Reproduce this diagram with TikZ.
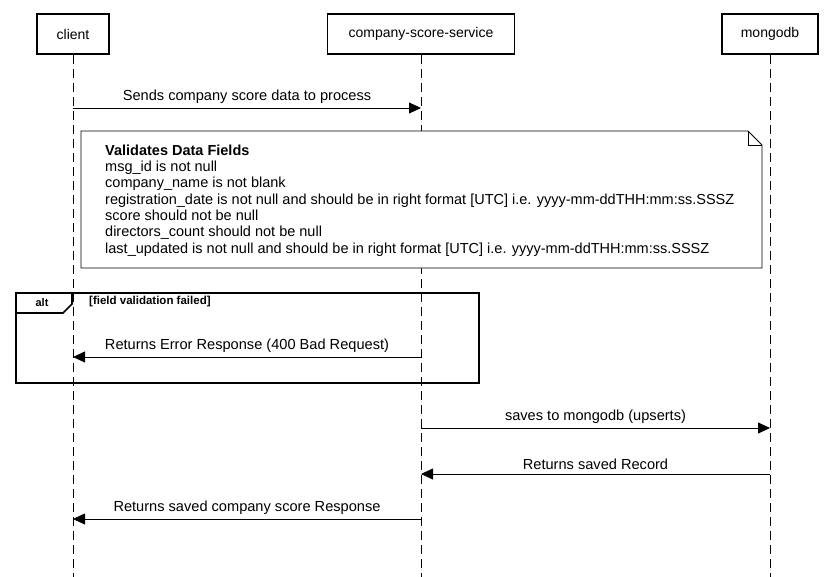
\documentclass[tikz,border=0pt]{standalone}
\usepackage{fontspec}
\setmainfont{Liberation Sans}
\usetikzlibrary{arrows.meta}
\begin{document}
\begin{tikzpicture}[x=1pt,y=-1pt,
  actor/.style={draw=black, line width=1.6pt, minimum width=#1, minimum height=40pt, inner sep=0pt, font=\fontsize{14}{16}\selectfont},
  lifeline/.style={draw=black, line width=0.8pt, dash pattern=on 9pt off 5pt},
  msg/.style={draw=black, line width=0.8pt, -{Triangle[length=12pt,width=11pt]}},
  msglabel/.style={font=\fontsize{14.6}{16}\selectfont, inner sep=0pt},
  frame/.style={draw=black, line width=1.6pt}]
\useasboundingbox (0,0) rectangle (826,577);
% participants
\node [actor=72pt] (client) at (73,34) {client};
\node [actor=187pt] (service) at (421,34) {company-score-service};
\node [actor=96pt] (mongo) at (770,34) {mongodb};
% lifelines
\coordinate (clientend) at (73,577);
\coordinate (serviceend) at (421,577);
\coordinate (mongoend) at (770,577);
\draw [lifeline] (client.south) -- (clientend);
\draw [lifeline] (service.south) -- (serviceend);
\draw [lifeline] (mongo.south) -- (mongoend);
% validation note
\fill [white] (81,131) -- (748,131) -- (762,145) -- (762,268) -- (81,268) -- cycle;
\draw [line width=0.8pt] (81,131) -- (748,131) -- (762,145) -- (762,268) -- (81,268) -- cycle;
\draw [line width=0.8pt] (748,131) -- (748,145) -- (762,145);
\node [anchor=north west, align=left, inner sep=0pt, font=\fontsize{14.5}{16.3}\selectfont] (note) at (105,144.5)
  {\textbf{Validates Data Fields}\\
   msg\_id is not null\\
   company\_name is not blank\\
   registration\_date is not null and should be in right format [UTC] i.e. yyyy-mm-ddTHH:mm:ss.SSSZ\\
   score should not be null\\
   directors\_count should not be null\\
   last\_updated is not null and should be in right format [UTC] i.e. yyyy-mm-ddTHH:mm:ss.SSSZ};
% alt frame
\draw [frame] (16,293) rectangle (479,383);
\draw [frame] (16,313) -- (63,313) -- (72,304) -- (72,293);
\node [font=\bfseries\fontsize{11}{13}\selectfont] (alt) at (42,302.5) {alt};
\node [anchor=west, font=\bfseries\fontsize{11.5}{13}\selectfont, inner sep=0pt] (guard) at (89,301.5) {[field validation failed]};
% messages
\coordinate (c1) at (73,108);  \coordinate (s1) at (421,108);
\coordinate (s2) at (421,357); \coordinate (c2) at (73,357);
\coordinate (s3) at (421,428); \coordinate (m3) at (770,428);
\coordinate (m4) at (770,474); \coordinate (s4) at (421,474);
\coordinate (s5) at (421,519); \coordinate (c5) at (73,519);
\draw [msg] (c1) -- node [msglabel, above=4pt] {Sends company score data to process} (s1);
\draw [msg] (s2) -- node [msglabel, above=4pt] {Returns Error Response (400 Bad Request)} (c2);
\draw [msg] (s3) -- node [msglabel, above=4pt] {saves to mongodb (upserts)} (m3);
\draw [msg] (m4) -- node [msglabel, above=4pt] {Returns saved Record} (s4);
\draw [msg] (s5) -- node [msglabel, above=4pt] {Returns saved company score Response} (c5);
\end{tikzpicture}
\end{document}
